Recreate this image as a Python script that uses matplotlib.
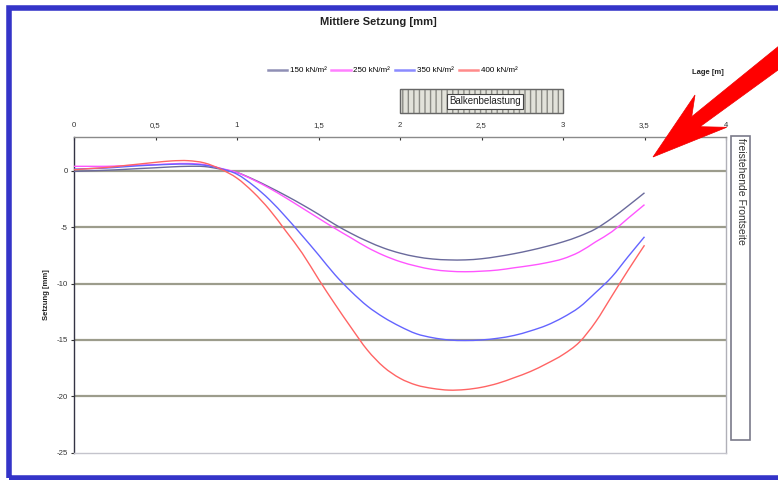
import matplotlib
matplotlib.use("Agg")
import matplotlib.pyplot as plt
from matplotlib.patches import Rectangle, Polygon, PathPatch
from matplotlib.path import Path
from matplotlib.lines import Line2D
from matplotlib.transforms import blended_transform_factory

plt.rcParams['font.family'] = ['Liberation Sans', 'DejaVu Sans']

# Position along the beam [m]
lage = [0.0, 0.1, 0.2, 0.3, 0.4, 0.5, 0.6, 0.7, 0.8, 0.9,
        1.0, 1.1, 1.2, 1.3, 1.4, 1.5, 1.6, 1.7, 1.8, 1.9,
        2.0, 2.1, 2.2, 2.3, 2.4, 2.5, 2.6, 2.7, 2.8, 2.9,
        3.0, 3.1, 3.2, 3.3, 3.4, 3.5]

# Mean settlement [mm] per load level
s150 = [-0.05, 0.0, 0.05, 0.12, 0.2, 0.27, 0.35, 0.4, 0.38, 0.15,
        -0.15, -0.75, -1.45, -2.2, -3.0, -3.85, -4.75, -5.55, -6.25, -6.85,
        -7.3, -7.62, -7.82, -7.9, -7.9, -7.8, -7.6, -7.35, -7.05, -6.7,
        -6.3, -5.8, -5.15, -4.2, -3.1, -1.95]
s250 = [0.4, 0.4, 0.4, 0.45, 0.5, 0.55, 0.62, 0.65, 0.55, 0.22,
        -0.15, -0.8, -1.55, -2.4, -3.3, -4.2, -5.1, -5.95, -6.8, -7.5,
        -8.05, -8.45, -8.75, -8.9, -8.95, -8.9, -8.8, -8.6, -8.4, -8.15,
        -7.8, -7.2, -6.3, -5.4, -4.2, -3.0]
s350 = [0.15, 0.2, 0.25, 0.35, 0.45, 0.52, 0.58, 0.6, 0.5, 0.2,
        -0.3, -1.3, -2.57, -4.1, -5.75, -7.45, -9.2, -10.7, -12.0, -13.0,
        -13.8, -14.45, -14.8, -15.0, -15.05, -15.0, -14.85, -14.6, -14.2, -13.7,
        -13.0, -12.1, -10.8, -9.4, -7.6, -5.85]
s400 = [0.1, 0.2, 0.3, 0.45, 0.6, 0.75, 0.88, 0.9, 0.7, 0.15,
        -0.65, -1.9, -3.46, -5.35, -7.3, -9.6, -11.8, -13.9, -15.9, -17.4,
        -18.4, -19.0, -19.3, -19.45, -19.4, -19.2, -18.85, -18.35, -17.8, -17.1,
        -16.3, -15.2, -13.4, -11.1, -8.8, -6.6]

series_labels = ['150 kN/m²', '250 kN/m²', '350 kN/m²', '400 kN/m²']
series_colors = ['#6a6a9c', '#ff55ff', '#6464ff', '#ff6464']

x_ticks = [0, 0.5, 1, 1.5, 2, 2.5, 3, 3.5, 4]
x_ticklabels = ['0', '0,5', '1', '1,5', '2', '2,5', '3', '3,5', '4']
y_ticks = [0, -5, -10, -15, -20, -25]
y_ticklabels = ['0', '-5', '-10', '-15', '-20', '-25']

# Loaded section of the beam [m]
last_start, last_end = 2.0, 3.0

W, H = 778, 480
fig = plt.figure(figsize=(W / 100, H / 100), dpi=100)
fig.patch.set_facecolor('white')


def fx(px):
    return px / W


def fy(py):
    return 1 - py / H


def smooth_path(xs, ys):
    """Cubic Bezier path through the data points (spreadsheet-style smoothed line)."""
    n = len(xs)
    verts = [(xs[0], ys[0])]
    codes = [Path.MOVETO]
    for i in range(n - 1):
        x0, y0 = xs[max(i - 1, 0)], ys[max(i - 1, 0)]
        x1, y1 = xs[i], ys[i]
        x2, y2 = xs[i + 1], ys[i + 1]
        x3, y3 = xs[min(i + 2, n - 1)], ys[min(i + 2, n - 1)]
        c1 = (x1 + (x2 - x0) / 6, y1 + (y2 - y0) / 6)
        c2 = (x2 - (x3 - x1) / 6, y2 - (y3 - y1) / 6)
        verts += [c1, c2, (x2, y2)]
        codes += [Path.CURVE4] * 3
    return Path(verts, codes)


ax = fig.add_axes([fx(74), fy(452.7), fx(726) - fx(74), fy(137) - fy(452.7)])

# horizontal gridlines
for yv in y_ticks[:-1]:
    ax.axhline(yv, color='#9c9c8c', lw=1.6, zorder=1)

handles = []
for vals, lab, col in zip([s150, s250, s350, s400], series_labels, series_colors):
    ax.add_patch(PathPatch(smooth_path(lage, vals), facecolor='none',
                           edgecolor=col, lw=1.0, zorder=3))
    handles.append(Line2D([], [], color=col, lw=1.8, alpha=0.75, label=lab))

ax.set_xlim(0, 4)
ax.set_ylim(-25, 3)

ax.xaxis.tick_top()
ax.set_xticks(x_ticks)
ax.set_xticklabels(x_ticklabels)
ax.set_yticks(y_ticks)
ax.set_yticklabels(y_ticklabels)
ax.tick_params(axis='x', direction='in', length=2.5, width=0.8, pad=6,
               labelsize=5.6, colors='#333333')
ax.tick_params(axis='y', direction='out', length=2, width=0.8, pad=2.5,
               labelsize=5.6, colors='#333333')

ax.spines['left'].set_color('#333344')
ax.spines['top'].set_color('#8a8a8a')
ax.spines['right'].set_color('#b0b0b8')
ax.spines['bottom'].set_color('#c4c4cc')
for sp in ax.spines.values():
    sp.set_linewidth(1.0)

ax.set_ylabel('Setzung [mm]', fontsize=5.5, fontweight='bold', color='#222222')
ax.yaxis.set_label_coords(-0.037, 0.5)

# load bar above the plot
trans = blended_transform_factory(ax.transData, ax.transAxes)
ax.add_patch(Rectangle((last_start, 1.076), last_end - last_start, 0.077,
                       transform=trans, clip_on=False, facecolor='#e2e2da',
                       edgecolor='#8a8a84', hatch='|||', lw=0.9, zorder=4))
ax.add_patch(Rectangle((last_start, 1.076), last_end - last_start, 0.077,
                       transform=trans, clip_on=False, facecolor='none',
                       edgecolor='#666666', lw=0.9, zorder=5))
ax.text(2.52, 1.113, 'Balkenbelastung', transform=trans, ha='center', va='center',
        fontsize=7, color='#222222', zorder=6,
        bbox=dict(boxstyle='square,pad=0.25', facecolor='white',
                  edgecolor='#444444', lw=0.8))

# title and axis caption
fig.text(fx(378), fy(22), 'Mittlere Setzung [mm]', ha='center', va='center',
         fontsize=8, fontweight='bold', color='#222222')
fig.text(fx(708), fy(72), 'Lage [m]', ha='center', va='center',
         fontsize=5.5, fontweight='bold', color='#222222')

fig.legend(handles=handles, loc='center', bbox_to_anchor=(fx(392.5), fy(70.5)),
           ncol=4, frameon=False, fontsize=5.8, handlelength=2.4,
           handletextpad=0.35, columnspacing=0.6)

# side panel for the free front face
fig.patches.append(Rectangle((fx(731), fy(440)), fx(750) - fx(731), fy(136) - fy(440),
                             transform=fig.transFigure, facecolor='white',
                             edgecolor='#7a7a8a', lw=1.2))
fig.text(fx(740.5), fy(138), 'freistehende Frontseite', rotation=270,
         ha='center', va='top', fontsize=7.5, color='#333333')

# outer frame
fig.patches.append(Rectangle((fx(8.5), fy(478)), fx(800) - fx(8.5), fy(7.5) - fy(478),
                             transform=fig.transFigure, facecolor='none',
                             edgecolor='#3434c8', lw=4.0))

# pointer arrow
arrow_px = [(653, 157), (695, 95), (691.7, 116.7), (790, 37),
            (790, 61.3), (700, 126.7), (726.7, 127.3)]
fig.patches.append(Polygon([(fx(a), fy(b)) for a, b in arrow_px], closed=True,
                           transform=fig.transFigure, facecolor='#ff0000',
                           edgecolor='#ee0000', lw=0.5))

fig.savefig('out.png', dpi=100, facecolor='white')
